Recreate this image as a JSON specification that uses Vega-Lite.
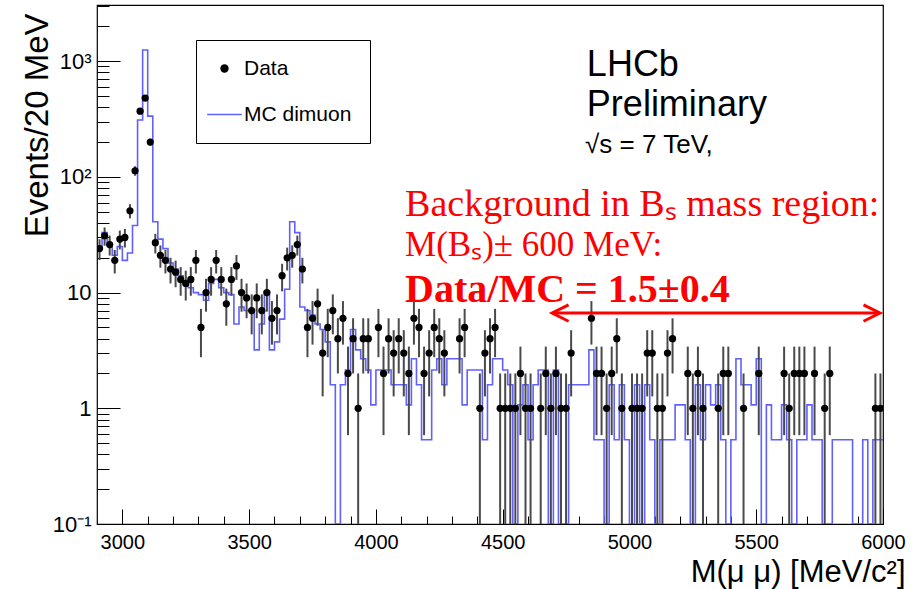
{
  "$schema": "https://vega.github.io/schema/vega-lite/v6.json",
  "width": 786,
  "height": 519,
  "autosize": {"type": "none"},
  "padding": {"left": 97, "top": 5, "right": 38, "bottom": 65},
  "background": "white",
  "config": {
    "view": {"stroke": "black", "strokeWidth": 1.2},
    "font": "Liberation Sans"
  },
  "datasets": {
    "pts": [
      {"m": 2910, "n": 24, "lo": 19.101, "hi": 28.899},
      {"m": 2930, "n": 31, "lo": 25.432, "hi": 36.568},
      {"m": 2950, "n": 26, "lo": 20.901, "hi": 31.099},
      {"m": 2970, "n": 19, "lo": 14.641, "hi": 23.359},
      {"m": 2990, "n": 29, "lo": 23.615, "hi": 34.385},
      {"m": 3010, "n": 30, "lo": 24.523, "hi": 35.477},
      {"m": 3030, "n": 51, "lo": 43.859, "hi": 58.141},
      {"m": 3050, "n": 113, "lo": 102.37, "hi": 123.63},
      {"m": 3070, "n": 370, "lo": 350.76, "hi": 389.24},
      {"m": 3090, "n": 480, "lo": 458.09, "hi": 501.91},
      {"m": 3110, "n": 200, "lo": 185.86, "hi": 214.14},
      {"m": 3130, "n": 27, "lo": 21.804, "hi": 32.196},
      {"m": 3150, "n": 21, "lo": 16.417, "hi": 25.583},
      {"m": 3170, "n": 19, "lo": 14.641, "hi": 23.359},
      {"m": 3190, "n": 16, "lo": 12, "hi": 20},
      {"m": 3210, "n": 15, "lo": 11.127, "hi": 18.873},
      {"m": 3230, "n": 13, "lo": 9.394, "hi": 16.606},
      {"m": 3250, "n": 12, "lo": 8.536, "hi": 15.464},
      {"m": 3270, "n": 13, "lo": 9.394, "hi": 16.606},
      {"m": 3290, "n": 19, "lo": 14.641, "hi": 23.359},
      {"m": 3310, "n": 5, "lo": 2.764, "hi": 7.236},
      {"m": 3330, "n": 10, "lo": 6.838, "hi": 13.162},
      {"m": 3350, "n": 13, "lo": 9.394, "hi": 16.606},
      {"m": 3370, "n": 19, "lo": 14.641, "hi": 23.359},
      {"m": 3390, "n": 13, "lo": 9.394, "hi": 16.606},
      {"m": 3410, "n": 8, "lo": 5.172, "hi": 10.828},
      {"m": 3430, "n": 13, "lo": 9.394, "hi": 16.606},
      {"m": 3450, "n": 17, "lo": 12.877, "hi": 21.123},
      {"m": 3470, "n": 10, "lo": 6.838, "hi": 13.162},
      {"m": 3490, "n": 9, "lo": 6, "hi": 12},
      {"m": 3510, "n": 7, "lo": 4.354, "hi": 9.646},
      {"m": 3530, "n": 9, "lo": 6, "hi": 12},
      {"m": 3550, "n": 7, "lo": 4.354, "hi": 9.646},
      {"m": 3570, "n": 10, "lo": 6.838, "hi": 13.162},
      {"m": 3590, "n": 6, "lo": 3.551, "hi": 8.449},
      {"m": 3610, "n": 7, "lo": 4.354, "hi": 9.646},
      {"m": 3630, "n": 14, "lo": 10.258, "hi": 17.742},
      {"m": 3650, "n": 20, "lo": 15.528, "hi": 24.472},
      {"m": 3670, "n": 21, "lo": 16.417, "hi": 25.583},
      {"m": 3690, "n": 26, "lo": 20.901, "hi": 31.099},
      {"m": 3710, "n": 16, "lo": 12, "hi": 20},
      {"m": 3730, "n": 5, "lo": 2.764, "hi": 7.236},
      {"m": 3750, "n": 6, "lo": 3.551, "hi": 8.449},
      {"m": 3770, "n": 8, "lo": 5.172, "hi": 10.828},
      {"m": 3790, "n": 3, "lo": 1.268, "hi": 4.732},
      {"m": 3810, "n": 5, "lo": 2.764, "hi": 7.236},
      {"m": 3830, "n": 7, "lo": 4.354, "hi": 9.646},
      {"m": 3850, "n": 4, "lo": 2, "hi": 6},
      {"m": 3870, "n": 6, "lo": 3.551, "hi": 8.449},
      {"m": 3890, "n": 2, "lo": 0.586, "hi": 3.414},
      {"m": 3910, "n": 4, "lo": 2, "hi": 6},
      {"m": 3930, "n": 1, "lo": 0.1, "hi": 2},
      {"m": 3950, "n": 4, "lo": 2, "hi": 6},
      {"m": 3970, "n": 4, "lo": 2, "hi": 6},
      {"m": 4010, "n": 5, "lo": 2.764, "hi": 7.236},
      {"m": 4030, "n": 2, "lo": 0.586, "hi": 3.414},
      {"m": 4050, "n": 4, "lo": 2, "hi": 6},
      {"m": 4070, "n": 3, "lo": 1.268, "hi": 4.732},
      {"m": 4090, "n": 4, "lo": 2, "hi": 6},
      {"m": 4110, "n": 3, "lo": 1.268, "hi": 4.732},
      {"m": 4130, "n": 2, "lo": 0.586, "hi": 3.414},
      {"m": 4150, "n": 6, "lo": 3.551, "hi": 8.449},
      {"m": 4170, "n": 5, "lo": 2.764, "hi": 7.236},
      {"m": 4190, "n": 2, "lo": 0.586, "hi": 3.414},
      {"m": 4210, "n": 3, "lo": 1.268, "hi": 4.732},
      {"m": 4230, "n": 5, "lo": 2.764, "hi": 7.236},
      {"m": 4250, "n": 4, "lo": 2, "hi": 6},
      {"m": 4270, "n": 3, "lo": 1.268, "hi": 4.732},
      {"m": 4330, "n": 4, "lo": 2, "hi": 6},
      {"m": 4350, "n": 5, "lo": 2.764, "hi": 7.236},
      {"m": 4410, "n": 1, "lo": 0.1, "hi": 2},
      {"m": 4430, "n": 3, "lo": 1.268, "hi": 4.732},
      {"m": 4450, "n": 4, "lo": 2, "hi": 6},
      {"m": 4470, "n": 5, "lo": 2.764, "hi": 7.236},
      {"m": 4490, "n": 1, "lo": 0.1, "hi": 2},
      {"m": 4510, "n": 1, "lo": 0.1, "hi": 2},
      {"m": 4530, "n": 1, "lo": 0.1, "hi": 2},
      {"m": 4550, "n": 1, "lo": 0.1, "hi": 2},
      {"m": 4570, "n": 2, "lo": 0.586, "hi": 3.414},
      {"m": 4590, "n": 1, "lo": 0.1, "hi": 2},
      {"m": 4610, "n": 1, "lo": 0.1, "hi": 2},
      {"m": 4650, "n": 1, "lo": 0.1, "hi": 2},
      {"m": 4670, "n": 2, "lo": 0.586, "hi": 3.414},
      {"m": 4690, "n": 1, "lo": 0.1, "hi": 2},
      {"m": 4710, "n": 2, "lo": 0.586, "hi": 3.414},
      {"m": 4730, "n": 1, "lo": 0.1, "hi": 2},
      {"m": 4750, "n": 1, "lo": 0.1, "hi": 2},
      {"m": 4770, "n": 3, "lo": 1.268, "hi": 4.732},
      {"m": 4850, "n": 6, "lo": 3.551, "hi": 8.449},
      {"m": 4870, "n": 2, "lo": 0.586, "hi": 3.414},
      {"m": 4890, "n": 2, "lo": 0.586, "hi": 3.414},
      {"m": 4910, "n": 1, "lo": 0.1, "hi": 2},
      {"m": 4930, "n": 2, "lo": 0.586, "hi": 3.414},
      {"m": 4950, "n": 4, "lo": 2, "hi": 6},
      {"m": 4970, "n": 1, "lo": 0.1, "hi": 2},
      {"m": 5010, "n": 1, "lo": 0.1, "hi": 2},
      {"m": 5030, "n": 1, "lo": 0.1, "hi": 2},
      {"m": 5050, "n": 1, "lo": 0.1, "hi": 2},
      {"m": 5070, "n": 3, "lo": 1.268, "hi": 4.732},
      {"m": 5090, "n": 3, "lo": 1.268, "hi": 4.732},
      {"m": 5110, "n": 1, "lo": 0.1, "hi": 2},
      {"m": 5130, "n": 1, "lo": 0.1, "hi": 2},
      {"m": 5150, "n": 3, "lo": 1.268, "hi": 4.732},
      {"m": 5170, "n": 4, "lo": 2, "hi": 6},
      {"m": 5230, "n": 2, "lo": 0.586, "hi": 3.414},
      {"m": 5250, "n": 1, "lo": 0.1, "hi": 2},
      {"m": 5270, "n": 2, "lo": 0.586, "hi": 3.414},
      {"m": 5290, "n": 1, "lo": 0.1, "hi": 2},
      {"m": 5350, "n": 1, "lo": 0.1, "hi": 2},
      {"m": 5370, "n": 2, "lo": 0.586, "hi": 3.414},
      {"m": 5390, "n": 2, "lo": 0.586, "hi": 3.414},
      {"m": 5450, "n": 1, "lo": 0.1, "hi": 2},
      {"m": 5510, "n": 2, "lo": 0.586, "hi": 3.414},
      {"m": 5610, "n": 2, "lo": 0.586, "hi": 3.414},
      {"m": 5630, "n": 1, "lo": 0.1, "hi": 2},
      {"m": 5650, "n": 2, "lo": 0.586, "hi": 3.414},
      {"m": 5670, "n": 2, "lo": 0.586, "hi": 3.414},
      {"m": 5690, "n": 2, "lo": 0.586, "hi": 3.414},
      {"m": 5730, "n": 2, "lo": 0.586, "hi": 3.414},
      {"m": 5770, "n": 1, "lo": 0.1, "hi": 2},
      {"m": 5790, "n": 2, "lo": 0.586, "hi": 3.414},
      {"m": 5970, "n": 1, "lo": 0.1, "hi": 2},
      {"m": 5990, "n": 1, "lo": 0.1, "hi": 2}
    ],
    "mc": [
      {"lo": 2900, "mc": 24}, {"lo": 2920, "mc": 33}, {"lo": 2940, "mc": 26}, {"lo": 2960, "mc": 21},
      {"lo": 2980, "mc": 25}, {"lo": 3000, "mc": 19}, {"lo": 3020, "mc": 22}, {"lo": 3040, "mc": 38},
      {"lo": 3060, "mc": 310}, {"lo": 3080, "mc": 1250}, {"lo": 3100, "mc": 335}, {"lo": 3120, "mc": 41},
      {"lo": 3140, "mc": 29}, {"lo": 3160, "mc": 24}, {"lo": 3180, "mc": 18}, {"lo": 3200, "mc": 16},
      {"lo": 3220, "mc": 14}, {"lo": 3240, "mc": 12}, {"lo": 3260, "mc": 11}, {"lo": 3280, "mc": 10},
      {"lo": 3300, "mc": 9.6}, {"lo": 3320, "mc": 8.6}, {"lo": 3340, "mc": 12}, {"lo": 3360, "mc": 13},
      {"lo": 3380, "mc": 11}, {"lo": 3400, "mc": 10}, {"lo": 3420, "mc": 9.6}, {"lo": 3440, "mc": 5.35},
      {"lo": 3460, "mc": 7.5}, {"lo": 3480, "mc": 7}, {"lo": 3500, "mc": 7}, {"lo": 3520, "mc": 3.2},
      {"lo": 3540, "mc": 5.35}, {"lo": 3560, "mc": 10.2}, {"lo": 3580, "mc": 3.2}, {"lo": 3600, "mc": 3.75},
      {"lo": 3620, "mc": 5.9}, {"lo": 3640, "mc": 10.7}, {"lo": 3660, "mc": 41}, {"lo": 3680, "mc": 33},
      {"lo": 3700, "mc": 7.5}, {"lo": 3720, "mc": 7}, {"lo": 3740, "mc": 6.4}, {"lo": 3760, "mc": 5.35},
      {"lo": 3780, "mc": 4.8}, {"lo": 3800, "mc": 3.75}, {"lo": 3820, "mc": 1.6}, {"lo": 3840, "mc": 0.1},
      {"lo": 3860, "mc": 1.6}, {"lo": 3880, "mc": 2.14}, {"lo": 3900, "mc": 4.8}, {"lo": 3920, "mc": 3.2},
      {"lo": 3940, "mc": 2.68}, {"lo": 3960, "mc": 2.14}, {"lo": 3980, "mc": 1.07}, {"lo": 4000, "mc": 2.14},
      {"lo": 4020, "mc": 2.14}, {"lo": 4040, "mc": 2.14}, {"lo": 4060, "mc": 1.6}, {"lo": 4080, "mc": 1.6},
      {"lo": 4100, "mc": 1.6}, {"lo": 4120, "mc": 1.07}, {"lo": 4140, "mc": 2.68}, {"lo": 4160, "mc": 1.6},
      {"lo": 4180, "mc": 0.535}, {"lo": 4200, "mc": 0.535}, {"lo": 4220, "mc": 2.14}, {"lo": 4240, "mc": 2.68},
      {"lo": 4260, "mc": 1.6}, {"lo": 4280, "mc": 2.68}, {"lo": 4300, "mc": 2.68}, {"lo": 4320, "mc": 2.68},
      {"lo": 4340, "mc": 1.07}, {"lo": 4360, "mc": 2.14}, {"lo": 4380, "mc": 2.14}, {"lo": 4400, "mc": 2.14},
      {"lo": 4420, "mc": 0.535}, {"lo": 4440, "mc": 1.6}, {"lo": 4460, "mc": 2.68}, {"lo": 4480, "mc": 2.68},
      {"lo": 4500, "mc": 2.14}, {"lo": 4520, "mc": 1.6}, {"lo": 4540, "mc": 0.1}, {"lo": 4560, "mc": 1.07},
      {"lo": 4580, "mc": 1.6}, {"lo": 4600, "mc": 0.535}, {"lo": 4620, "mc": 1.6}, {"lo": 4640, "mc": 2.14},
      {"lo": 4660, "mc": 2.14}, {"lo": 4680, "mc": 0.1}, {"lo": 4700, "mc": 2.14}, {"lo": 4720, "mc": 0.1},
      {"lo": 4740, "mc": 0.1}, {"lo": 4760, "mc": 1.6}, {"lo": 4780, "mc": 1.6}, {"lo": 4800, "mc": 1.6},
      {"lo": 4820, "mc": 1.6}, {"lo": 4840, "mc": 3.2}, {"lo": 4860, "mc": 0.535}, {"lo": 4880, "mc": 0.535},
      {"lo": 4900, "mc": 0.1}, {"lo": 4920, "mc": 1.6}, {"lo": 4940, "mc": 0.535}, {"lo": 4960, "mc": 1.6},
      {"lo": 4980, "mc": 0.535}, {"lo": 5000, "mc": 0.1}, {"lo": 5020, "mc": 1.6}, {"lo": 5040, "mc": 0.1},
      {"lo": 5060, "mc": 1.6}, {"lo": 5080, "mc": 0.535}, {"lo": 5100, "mc": 0.1}, {"lo": 5120, "mc": 0.535},
      {"lo": 5140, "mc": 0.535}, {"lo": 5160, "mc": 0.535}, {"lo": 5180, "mc": 1.07}, {"lo": 5200, "mc": 1.07},
      {"lo": 5220, "mc": 0.535}, {"lo": 5240, "mc": 0.1}, {"lo": 5260, "mc": 1.6}, {"lo": 5280, "mc": 0.535},
      {"lo": 5300, "mc": 1.6}, {"lo": 5320, "mc": 1.07}, {"lo": 5340, "mc": 1.6}, {"lo": 5360, "mc": 0.535},
      {"lo": 5380, "mc": 0.1}, {"lo": 5400, "mc": 0.535}, {"lo": 5420, "mc": 2.68}, {"lo": 5440, "mc": 1.6},
      {"lo": 5460, "mc": 1.6}, {"lo": 5480, "mc": 1.07}, {"lo": 5500, "mc": 2.68}, {"lo": 5520, "mc": 0.1},
      {"lo": 5540, "mc": 1.07}, {"lo": 5560, "mc": 0.535}, {"lo": 5580, "mc": 0.535}, {"lo": 5600, "mc": 1.07},
      {"lo": 5620, "mc": 0.535}, {"lo": 5640, "mc": 0.1}, {"lo": 5660, "mc": 0.535}, {"lo": 5680, "mc": 0.535},
      {"lo": 5700, "mc": 1.07}, {"lo": 5720, "mc": 0.535}, {"lo": 5740, "mc": 0.535}, {"lo": 5760, "mc": 0.1},
      {"lo": 5780, "mc": 0.1}, {"lo": 5800, "mc": 0.535}, {"lo": 5820, "mc": 0.535}, {"lo": 5840, "mc": 0.535},
      {"lo": 5860, "mc": 0.535}, {"lo": 5880, "mc": 0.1}, {"lo": 5900, "mc": 0.1}, {"lo": 5920, "mc": 0.535},
      {"lo": 5940, "mc": 0.1}, {"lo": 5960, "mc": 0.535}, {"lo": 5980, "mc": 0.535}, {"lo": 6000, "mc": 0.535}
    ]
  },
  "layer": [
    {
      "data": {"name": "mc"},
      "mark": {"type": "line", "interpolate": "step-after", "strokeWidth": 1.6, "clip": true},
      "encoding": {
        "x": {
          "field": "lo", "type": "quantitative",
          "scale": {"domain": [2900, 6000], "nice": false, "zero": false},
          "axis": {
            "orient": "bottom", "values": [3000, 3500, 4000, 4500, 5000, 5500, 6000],
            "format": "d", "ticks": false, "tickSize": 0, "domain": false, "grid": false,
            "labelFont": "Liberation Sans", "labelFontSize": 20, "labelColor": "black", "labelPadding": 8,
            "labelFlush": false, "labelOverlap": false,
            "title": "M(μ μ) [MeV/c²]", "titleFont": "Liberation Sans", "titleFontSize": 31,
            "titleFontWeight": "normal", "titleColor": "black", "titleAlign": "right",
            "titleBaseline": "middle", "titleAnchor": "end", "titleX": 808, "titleY": 48
          }
        },
        "y": {
          "field": "mc", "type": "quantitative",
          "scale": {"type": "log", "domain": [0.1, 3060], "nice": false},
          "axis": {
            "orient": "left", "values": [0.1, 1, 10, 100, 1000],
            "labelExpr": "datum.value >= 999 ? '10³' : datum.value >= 99 ? '10²' : datum.value >= 9 ? '10' : datum.value >= 0.9 ? '1' : '10⁻¹'",
            "ticks": false, "tickSize": 0, "domain": false, "grid": false,
            "labelFont": "Liberation Sans", "labelFontSize": 22, "labelColor": "black", "labelPadding": 6,
            "labelFlush": false, "labelOverlap": false,
            "title": "Events/20 MeV", "titleFont": "Liberation Sans", "titleFontSize": 33,
            "titleFontWeight": "normal", "titleColor": "black", "titleAngle": 270, "titleAlign": "right",
            "titleBaseline": "middle", "titleX": -60, "titleY": 8
          }
        },
        "color": {
          "datum": "MC dimuon", "type": "nominal",
          "scale": {"domain": ["Data", "MC dimuon"], "range": ["black", "#6060ff"]},
          "legend": {
            "orient": "none", "legendX": 99, "legendY": 35, "title": null,
            "strokeColor": "black", "fillColor": "white", "padding": 18, "rowPadding": 24,
            "labelFont": "Liberation Sans", "labelFontSize": 21, "labelColor": "black", "labelOffset": 9,
            "symbolType": "stroke", "symbolSize": 1200, "symbolStrokeWidth": 1.6,
            "encode": {
              "symbols": {
                "update": {
                  "shape": {"signal": "datum.value === 'Data' ? 'circle' : 'stroke'"},
                  "size": {"signal": "datum.value === 'Data' ? 70 : 1200"},
                  "fill": {"signal": "datum.value === 'Data' ? 'black' : 'transparent'"},
                  "stroke": {"signal": "datum.value === 'Data' ? 'black' : '#6060ff'"},
                  "strokeWidth": {"signal": "datum.value === 'Data' ? 0 : 1.6"},
                  "opacity": {"value": 1}
                }
              }
            }
          }
        }
      }
    },
    {
      "data": {"name": "pts"},
      "mark": {"type": "rule", "color": "#4a4a4a", "strokeWidth": 2, "clip": true},
      "encoding": {
        "x": {
          "field": "m", "type": "quantitative",
          "axis": {
            "orient": "bottom", "values": [3000, 3500, 4000, 4500, 5000, 5500, 6000],
            "labels": false, "domain": false, "grid": false, "ticks": true, "tickSize": -15,
            "tickColor": "black", "tickWidth": 1, "title": null
          }
        },
        "y": {
          "field": "lo", "type": "quantitative",
          "axis": {
            "orient": "left", "values": [0.1, 1, 10, 100, 1000],
            "labels": false, "domain": false, "grid": false, "ticks": true, "tickSize": -23,
            "tickColor": "black", "tickWidth": 1, "title": null
          }
        },
        "y2": {"field": "hi"}
      }
    },
    {
      "data": {"name": "pts"},
      "mark": {"type": "point", "filled": true, "size": 52, "opacity": 1, "clip": true},
      "encoding": {
        "x": {
          "field": "m", "type": "quantitative",
          "axis": {
            "orient": "bottom",
            "values": [3000, 3100, 3200, 3300, 3400, 3600, 3700, 3800, 3900, 4100, 4200, 4300, 4400, 4600, 4700, 4800, 4900, 5100, 5200, 5300, 5400, 5600, 5700, 5800, 5900],
            "labels": false, "domain": false, "grid": false, "ticks": true, "tickSize": -8,
            "tickColor": "black", "tickWidth": 1, "title": null
          }
        },
        "y": {
          "field": "n", "type": "quantitative",
          "axis": {
            "orient": "left",
            "values": [0.2, 0.3, 0.4, 0.5, 0.6, 0.7, 0.8, 0.9, 2, 3, 4, 5, 6, 7, 8, 9, 20, 30, 40, 50, 60, 70, 80, 90, 200, 300, 400, 500, 600, 700, 800, 900, 2000, 3000],
            "labels": false, "domain": false, "grid": false, "ticks": true, "tickSize": -12,
            "tickColor": "black", "tickWidth": 1, "title": null
          }
        },
        "color": {"datum": "Data", "type": "nominal"}
      }
    },
    {
      "data": {"values": [{}]},
      "mark": {"type": "text", "text": "LHCb", "align": "left", "baseline": "middle", "font": "Liberation Sans", "fontSize": 36, "color": "black"},
      "encoding": {"x": {"datum": 4832, "type": "quantitative", "axis": null}, "y": {"datum": 930, "type": "quantitative", "axis": null}}
    },
    {
      "data": {"values": [{}]},
      "mark": {"type": "text", "text": "Preliminary", "align": "left", "baseline": "middle", "font": "Liberation Sans", "fontSize": 36, "color": "black"},
      "encoding": {"x": {"datum": 4832, "type": "quantitative", "axis": null}, "y": {"datum": 420, "type": "quantitative", "axis": null}}
    },
    {
      "data": {"values": [{}]},
      "mark": {"type": "text", "text": "√s = 7 TeV,", "align": "left", "baseline": "middle", "font": "Liberation Sans", "fontSize": 26, "color": "black"},
      "encoding": {"x": {"datum": 4825, "type": "quantitative", "axis": null}, "y": {"datum": 189, "type": "quantitative", "axis": null}}
    },
    {
      "data": {"values": [{}]},
      "mark": {"type": "text", "text": "Background in Bₛ mass region:", "align": "left", "baseline": "middle", "font": "Liberation Serif", "fontSize": 38, "color": "red"},
      "encoding": {"x": {"datum": 4115, "type": "quantitative", "axis": null}, "y": {"datum": 57, "type": "quantitative", "axis": null}}
    },
    {
      "data": {"values": [{}]},
      "mark": {"type": "text", "text": "M(Bₛ)± 600 MeV:", "align": "left", "baseline": "middle", "font": "Liberation Serif", "fontSize": 35, "color": "red"},
      "encoding": {"x": {"datum": 4115, "type": "quantitative", "axis": null}, "y": {"datum": 25.8, "type": "quantitative", "axis": null}}
    },
    {
      "data": {"values": [{}]},
      "mark": {"type": "text", "text": "Data/MC = 1.5±0.4", "align": "left", "baseline": "middle", "font": "Liberation Serif", "fontSize": 40, "fontWeight": "bold", "color": "red"},
      "encoding": {"x": {"datum": 4115, "type": "quantitative", "axis": null}, "y": {"datum": 10.5, "type": "quantitative", "axis": null}}
    },
    {
      "data": {"values": [{}]},
      "mark": {"type": "rule", "color": "red", "strokeWidth": 3},
      "encoding": {"x": {"datum": 4697, "type": "quantitative", "axis": null}, "x2": {"datum": 5986}, "y": {"datum": 6.66, "type": "quantitative", "axis": null}}
    },
    {
      "data": {"values": [{}]},
      "mark": {"type": "point", "shape": "M1.9,-0.95L0,0L1.9,0.95", "filled": false, "stroke": "red", "strokeWidth": 3, "size": 300, "opacity": 1},
      "encoding": {"x": {"datum": 4695, "type": "quantitative", "axis": null}, "y": {"datum": 6.66, "type": "quantitative", "axis": null}}
    },
    {
      "data": {"values": [{}]},
      "mark": {"type": "point", "shape": "M-1.9,-0.95L0,0L-1.9,0.95", "filled": false, "stroke": "red", "strokeWidth": 3, "size": 300, "opacity": 1},
      "encoding": {"x": {"datum": 5988, "type": "quantitative", "axis": null}, "y": {"datum": 6.66, "type": "quantitative", "axis": null}}
    }
  ],
  "resolve": {"axis": {"x": "independent", "y": "independent"}}
}
